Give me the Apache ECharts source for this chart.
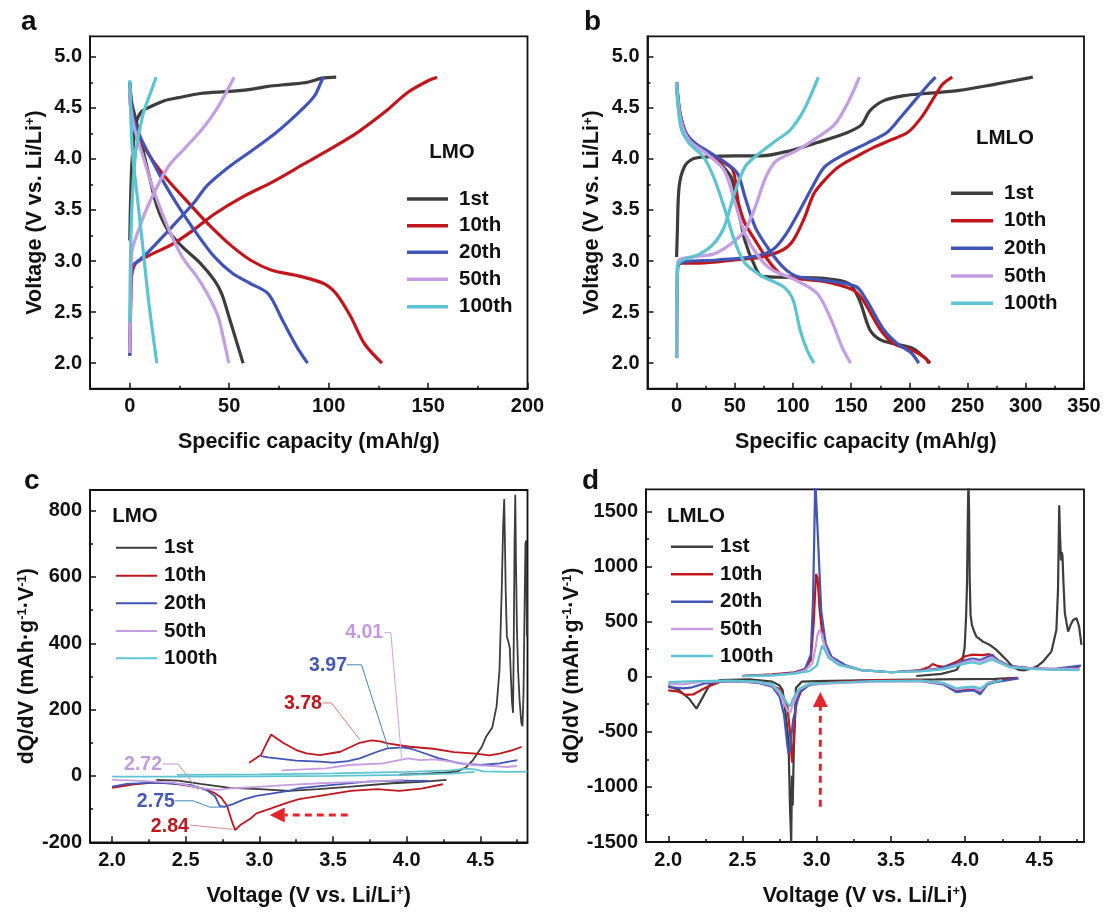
<!DOCTYPE html>
<html>
<head>
<meta charset="utf-8">
<script src="https://cdn.jsdelivr.net/npm/echarts@6/dist/echarts.min.js"></script>
<style>
  html, body { margin: 0; padding: 0; background: #fff; }
  #main { width: 1105px; height: 915px; }
</style>
</head>
<body>
<div id="main"></div>
<script>
var FONT = '"Liberation Sans", Arial, Helvetica, sans-serif';
var INK = '#111111';

var cycleNames = ['1st', '10th', '20th', '50th', '100th'];
var cycleColors = ['#3d3d3d', '#c1161c', '#4055b5', '#c59de2', '#5cc4d0'];

// ---- a: LMO charge / discharge, [capacity mAh/g, voltage V]
var lmoCharge1st = [[0,3.2],[0.4,3.6],[1.2,4.0],[3.1,4.34],[5.8,4.46],[10.3,4.51],[17.4,4.57],[24.6,4.60],[35.4,4.64],[49.8,4.66],[60.6,4.68],[69.6,4.71],[80,4.73],[89.4,4.75],[96.6,4.79],[103.8,4.80]];
var lmoDischarge1st = [[0,4.75],[1,4.55],[3.1,4.38],[6.7,4.08],[10.3,3.79],[13.8,3.53],[19.2,3.30],[26.4,3.14],[35.4,2.98],[42.6,2.81],[46.2,2.68],[49.8,2.46],[53.4,2.23],[57,2.0]];
var lmoCharge10th = [[0,2.08],[0.5,2.6],[0.9,2.85],[3.1,2.98],[10.3,3.06],[21,3.16],[31.8,3.30],[42.6,3.46],[57,3.63],[71.4,3.77],[87.6,3.95],[102,4.11],[114.6,4.26],[129,4.47],[139.7,4.65],[150.5,4.77],[154.5,4.80]];
var lmoDischarge10th = [[0,4.75],[0.5,4.5],[3.1,4.28],[10.3,4.02],[19.2,3.79],[30,3.56],[39,3.37],[49.8,3.17],[60.6,3.01],[71.4,2.91],[85.8,2.85],[97.5,2.78],[103.8,2.68],[111,2.46],[118,2.19],[126.8,2.0]];
var lmoCharge20th = [[0,2.07],[0.5,2.7],[1,2.94],[4.9,3.01],[10.3,3.11],[21,3.33],[31.8,3.56],[39,3.74],[49.8,3.92],[60.6,4.07],[73.2,4.25],[85.8,4.47],[93,4.62],[96.6,4.77],[97.5,4.80]];
var lmoDischarge20th = [[0,4.75],[1,4.5],[3.1,4.31],[10.3,4.02],[17.4,3.76],[24.6,3.53],[33.6,3.27],[42.6,3.04],[51.6,2.88],[60.6,2.78],[69.6,2.68],[76.8,2.42],[84,2.16],[89.4,2.0]];
var lmoCharge50th = [[0,2.1],[0.3,2.5],[0.9,3.07],[4.9,3.33],[10.3,3.59],[19.2,3.92],[28,4.11],[37.2,4.31],[44.4,4.51],[49.8,4.70],[52.5,4.80]];
var lmoDischarge50th = [[0,4.70],[0.5,4.5],[2.2,4.31],[6.7,4.02],[12,3.69],[19.2,3.33],[26.4,3.04],[33.6,2.85],[39,2.68],[44.4,2.46],[47,2.25],[49.8,2.0]];
var lmoCharge100th = [[0,2.4],[0.5,3.2],[1.5,3.7],[3.1,4.08],[6.7,4.44],[10.3,4.64],[13.3,4.80]];
var lmoDischarge100th = [[0,4.77],[1.3,4.08],[4,3.59],[6.7,3.11],[9.4,2.62],[12,2.23],[13.6,2.0]];

// ---- b: LMLO charge / discharge
var lmloCharge1st = [[0,3.04],[0.6,3.27],[2.1,3.72],[6.6,3.92],[14,4.0],[25.9,4.02],[49.7,4.03],[73.6,4.03],[97.4,4.08],[121,4.16],[145,4.25],[158.5,4.33],[166,4.47],[178,4.57],[196,4.62],[213.6,4.64],[243,4.67],[273,4.73],[306,4.80]];
var lmloDischarge1st = [[0,4.75],[2,4.47],[8,4.25],[20,4.11],[34.9,3.98],[46.8,3.82],[52.7,3.53],[58.7,3.20],[67.6,2.94],[73.6,2.85],[94.4,2.84],[127,2.83],[148,2.78],[157,2.62],[165.9,2.33],[174.8,2.23],[186.8,2.19],[201.7,2.15],[210.6,2.08],[218,2.0]];
var lmloCharge10th = [[0,2.05],[0.9,2.94],[3.6,2.98],[20,2.98],[49.7,3.01],[73.6,3.04],[91.5,3.11],[100,3.20],[109,3.40],[118,3.66],[127,3.79],[139,3.92],[154,4.02],[169,4.11],[183,4.18],[198.7,4.26],[210.6,4.41],[219.5,4.57],[228.5,4.73],[236.8,4.80]];
var lmloDischarge10th = [[0,4.75],[3.6,4.41],[11,4.18],[23,4.08],[37.8,3.98],[48.3,3.89],[52.7,3.59],[58.7,3.37],[67.6,3.20],[76.6,3.04],[88.5,2.88],[103,2.83],[127,2.80],[151,2.72],[160,2.62],[175,2.33],[186.8,2.19],[201.7,2.13],[213.6,2.05],[216.6,2.0]];
var lmloCharge20th = [[0,2.05],[0.9,2.94],[5,2.99],[34.9,3.01],[64.6,3.04],[82.5,3.11],[94.4,3.27],[106,3.50],[115,3.69],[127,3.92],[145,4.05],[163,4.15],[181,4.26],[192.7,4.41],[204.6,4.57],[216.6,4.73],[222.5,4.80]];
var lmloDischarge20th = [[0,4.75],[3.6,4.41],[11,4.20],[25.9,4.08],[43.8,3.95],[52.7,3.85],[58.7,3.63],[67.6,3.33],[79.5,3.11],[91.5,2.94],[103,2.85],[127,2.81],[154,2.75],[163,2.62],[177.8,2.33],[189.8,2.19],[201.7,2.10],[208,2.0]];
var lmloCharge50th = [[0,2.05],[0.8,2.95],[2,3.01],[14,3.04],[31.9,3.07],[46.8,3.17],[58.7,3.30],[67.6,3.53],[76.6,3.82],[85.5,3.98],[103,4.08],[121,4.21],[136,4.34],[148,4.57],[157,4.80]];
var lmloDischarge50th = [[0,4.75],[3.6,4.38],[11,4.18],[25.9,4.05],[40.8,3.89],[49.7,3.59],[58.7,3.27],[70.6,3.04],[82.5,2.91],[103,2.81],[121,2.68],[133,2.42],[142,2.16],[149.5,2.0]];
var lmloCharge100th = [[0,2.05],[0.6,2.94],[3.6,3.0],[20,3.07],[31.9,3.17],[40.8,3.33],[49.7,3.66],[58.7,3.92],[70.6,4.05],[85.5,4.18],[97.4,4.28],[109,4.47],[121.8,4.80]];
var lmloDischarge100th = [[0,4.75],[3.6,4.31],[11,4.15],[23,4.02],[31.9,3.82],[40.8,3.53],[49.7,3.20],[58.7,2.98],[73.6,2.85],[91.5,2.75],[100,2.62],[106,2.33],[112,2.13],[118,2.0]];

// ---- c: LMO dQ/dV, [voltage V, dQ/dV]
var lmoDqdvCharge1st = [[3.95,4],[4.1,6],[4.25,10],[4.34,13],[4.40,25],[4.45,48],[4.51,88],[4.54,119],[4.58,145],[4.61,209],[4.63,320],[4.645,560],[4.655,760],[4.662,835],[4.667,700],[4.672,560],[4.68,420],[4.69,405],[4.70,385],[4.707,300],[4.715,220],[4.722,190],[4.727,420],[4.732,700],[4.737,848],[4.742,640],[4.748,450],[4.756,320],[4.766,230],[4.778,160],[4.786,150],[4.793,250],[4.80,500],[4.806,700],[4.811,710],[4.816,420]];
var lmoDqdvDischarge1st = [[4.27,-12],[4.1,-18],[3.9,-22],[3.6,-33],[3.4,-40],[3.2,-45],[3.0,-40],[2.8,-36],[2.6,-24],[2.45,-14],[2.3,-12]];
var lmoDqdvCharge10th = [[2.93,40],[3.01,63],[3.05,100],[3.08,125],[3.12,112],[3.16,100],[3.25,78],[3.32,68],[3.41,63],[3.55,73],[3.68,100],[3.76,107],[3.82,104],[3.87,98],[4.02,88],[4.18,82],[4.32,72],[4.47,67],[4.56,62],[4.63,67],[4.72,78],[4.78,88]];
var lmoDqdvDischarge10th = [[4.245,-25],[4.1,-38],[3.95,-45],[3.8,-40],[3.62,-45],[3.41,-60],[3.27,-70],[3.18,-82],[3.08,-98],[2.98,-113],[2.935,-130],[2.87,-148],[2.835,-163],[2.81,-133],[2.78,-90],[2.74,-65],[2.69,-50],[2.62,-38],[2.5,-28],[2.4,-22],[2.28,-20],[2.15,-25],[2.0,-36]];
var lmoDqdvCharge20th = [[3.01,60],[3.06,56],[3.12,53],[3.25,46],[3.41,43],[3.5,40],[3.6,45],[3.68,53],[3.8,73],[3.87,83],[3.97,86],[4.03,82],[4.09,73],[4.22,53],[4.36,38],[4.5,33],[4.63,38],[4.75,48]];
var lmoDqdvDischarge20th = [[4.15,-15],[3.95,-14],[3.73,-17],[3.5,-27],[3.27,-37],[3.2,-45],[2.98,-60],[2.9,-70],[2.82,-85],[2.76,-93],[2.73,-90],[2.7,-62],[2.64,-42],[2.53,-27],[2.3,-20],[2.1,-24],[2.0,-32]];
var lmoDqdvCharge50th = [[3.15,17],[3.3,20],[3.45,23],[3.61,33],[3.84,38],[3.95,48],[4.01,53],[4.09,48],[4.18,50],[4.31,43],[4.45,33],[4.59,30],[4.68,27],[4.75,30]];
var lmoDqdvDischarge50th = [[3.98,-12],[3.73,-17],[3.41,-22],[3.2,-27],[3.02,-32],[2.82,-37],[2.72,-42],[2.6,-37],[2.5,-27],[2.41,-20],[2.2,-15],[2.0,-12]];
var lmoDqdvCharge100th = [[2.44,3],[3.0,5],[3.5,8],[4.0,12],[4.3,17],[4.4,22],[4.46,20],[4.52,14],[4.7,12],[4.82,13]];
var lmoDqdvDischarge100th = [[4.46,12],[4.3,7],[4.0,3],[3.5,0],[3.0,-1],[2.5,-2],[2.0,-2]];

// ---- d: LMLO dQ/dV
var lmloDqdvCharge1st = [[3.67,6],[3.84,25],[3.94,60],[3.98,140],[3.996,262],[4.006,550],[4.012,838],[4.018,1500],[4.022,1800],[4.026,1500],[4.03,900],[4.036,560],[4.045,470],[4.06,410],[4.075,364],[4.12,318],[4.17,285],[4.21,243],[4.278,152],[4.323,85],[4.36,62],[4.40,58],[4.45,75],[4.49,100],[4.524,137],[4.58,227],[4.614,424],[4.625,790],[4.633,1555],[4.638,1300],[4.645,1055],[4.65,1130],[4.655,1100],[4.662,842],[4.671,576],[4.693,409],[4.71,470],[4.727,515],[4.75,530],[4.767,455],[4.783,288]];
var lmloDqdvDischarge1st = [[4.35,-10],[4.2,-20],[4.0,-22],[3.8,-25],[3.5,-28],[3.2,-35],[3.0,-40],[2.9,-45],[2.86,-100],[2.845,-700],[2.838,-1170],[2.833,-900],[2.828,-1500],[2.82,-1200],[2.81,-600],[2.8,-450],[2.79,-330],[2.77,-121],[2.75,-80],[2.7,-45],[2.55,-25],[2.35,-30],[2.28,-70],[2.19,-290],[2.14,-200],[2.07,-120],[2.0,-85]];
var lmloDqdvCharge10th = [[2.5,8],[2.7,20],[2.85,40],[2.92,70],[2.96,150],[2.98,500],[2.995,930],[3.005,900],[3.02,600],[3.04,350],[3.08,180],[3.15,110],[3.3,60],[3.5,40],[3.7,60],[3.76,90],[3.78,115],[3.82,95],[3.86,90],[3.95,140],[4.0,185],[4.05,200],[4.12,195],[4.16,205],[4.2,160],[4.3,95],[4.45,75],[4.6,65],[4.77,85]];
var lmloDqdvDischarge10th = [[4.35,-10],[4.2,-40],[4.15,-60],[4.1,-145],[4.06,-110],[4.0,-115],[3.94,-125],[3.85,-60],[3.7,-30],[3.4,-30],[3.1,-50],[2.95,-70],[2.9,-110],[2.86,-250],[2.84,-650],[2.835,-780],[2.83,-720],[2.82,-500],[2.8,-250],[2.75,-110],[2.65,-60],[2.5,-40],[2.35,-45],[2.25,-100],[2.17,-160],[2.12,-166],[2.07,-136],[2.0,-125]];
var lmloDqdvCharge20th = [[2.5,6],[2.7,15],[2.85,35],[2.92,65],[2.96,200],[2.975,700],[2.985,1400],[2.99,1800],[3.0,1800],[3.01,1200],[3.03,600],[3.06,300],[3.1,180],[3.2,100],[3.3,60],[3.5,40],[3.7,55],[3.8,70],[3.95,120],[4.0,150],[4.05,165],[4.1,150],[4.15,180],[4.18,200],[4.22,150],[4.3,95],[4.45,75],[4.6,70],[4.78,100]];
var lmloDqdvDischarge20th = [[4.36,-15],[4.2,-50],[4.15,-70],[4.1,-160],[4.06,-125],[4.0,-130],[3.94,-140],[3.85,-70],[3.7,-40],[3.4,-40],[3.1,-55],[2.95,-75],[2.88,-150],[2.84,-400],[2.82,-650],[2.81,-700],[2.8,-600],[2.78,-350],[2.75,-180],[2.7,-90],[2.6,-55],[2.4,-40],[2.25,-60],[2.15,-100],[2.1,-106],[2.0,-95]];
var lmloDqdvCharge50th = [[2.5,5],[2.7,12],[2.85,30],[2.92,55],[2.97,120],[2.99,250],[3.005,380],[3.017,424],[3.03,400],[3.05,300],[3.08,190],[3.15,110],[3.3,60],[3.5,40],[3.7,50],[3.85,70],[3.95,110],[4.02,140],[4.05,150],[4.1,135],[4.15,160],[4.18,175],[4.22,140],[4.3,90],[4.5,70],[4.77,70]];
var lmloDqdvDischarge50th = [[4.2,-40],[4.15,-60],[4.1,-130],[4.06,-100],[4.0,-105],[3.94,-115],[3.85,-60],[3.7,-40],[3.4,-45],[3.1,-60],[2.95,-70],[2.88,-120],[2.84,-250],[2.82,-330],[2.8,-300],[2.75,-150],[2.7,-80],[2.6,-50],[2.4,-40],[2.2,-50],[2.1,-70],[2.0,-65]];
var lmloDqdvCharge100th = [[2.5,5],[2.7,12],[2.85,28],[2.95,50],[3.0,100],[3.02,200],[3.035,282],[3.05,250],[3.08,170],[3.15,105],[3.3,60],[3.5,40],[3.7,48],[3.85,65],[3.95,100],[4.02,125],[4.05,130],[4.1,115],[4.15,140],[4.18,155],[4.22,130],[4.3,85],[4.5,65],[4.77,60]];
var lmloDqdvDischarge100th = [[4.25,-30],[4.15,-60],[4.1,-110],[4.06,-90],[4.0,-95],[3.94,-105],[3.85,-55],[3.7,-35],[3.4,-40],[3.1,-55],[2.95,-65],[2.88,-110],[2.84,-200],[2.82,-270],[2.8,-240],[2.75,-130],[2.7,-70],[2.6,-45],[2.4,-35],[2.2,-40],[2.0,-50]];

// ---- tick labels
var capTicksA = [0, 50, 100, 150, 200];
var capMinorA = [25, 75, 125, 175];
var capTicksB = [0, 50, 100, 150, 200, 250, 300, 350];
var capMinorB = [25, 75, 125, 175, 225, 275, 325];
var voltTicks = [2.0, 2.5, 3.0, 3.5, 4.0, 4.5, 5.0];
var voltMinor = [2.25, 2.75, 3.25, 3.75, 4.25, 4.75];
var cvTicks = [2.0, 2.5, 3.0, 3.5, 4.0, 4.5];
var cvMinor = [2.25, 2.75, 3.25, 3.75, 4.25, 4.75];
var dqdvTicksC = [-200, 0, 200, 400, 600, 800];
var dqdvMinorC = [-100, 100, 300, 500, 700];
var dqdvTicksD = [-1500, -1000, -500, 0, 500, 1000, 1500];
var dqdvMinorD = [-1250, -750, -250, 250, 750, 1250];

// peak annotations in panel c (data coordinates)
var peakNotes = [
  { text: '4.01', color: '#c39ae0', line: '#c9a3e6', at: [3.711, 432], path: [[3.848, 432], [3.892, 432], [3.965, 53]] },
  { text: '3.97', color: '#4358b4', line: '#3f86b8', at: [3.466, 332], path: [[3.593, 335], [3.693, 335], [3.874, 84]] },
  { text: '3.78', color: '#c1161c', line: '#cf7a7a', at: [3.295, 219], path: [[3.43, 220], [3.489, 220], [3.682, 109]] },
  { text: '2.72', color: '#c39ae0', line: '#b89ad0', at: [2.21, 33], path: [[2.346, 36], [2.448, 36], [2.584, -42]] },
  { text: '2.75', color: '#4358b4', line: '#3f86b8', at: [2.297, -77], path: [[2.426, -75], [2.55, -75], [2.663, -94], [2.745, -94]] },
  { text: '2.84', color: '#c1161c', line: '#d48a8a', at: [2.392, -153], path: [[2.527, -148], [2.641, -153], [2.82, -161]] }
];
var arrowC = { from: [3.60, -118], to: [3.07, -118] };
var arrowD = { from: [3.024, -1180], to: [3.024, -140] };

var lmoCharge = [lmoCharge1st, lmoCharge10th, lmoCharge20th, lmoCharge50th, lmoCharge100th];
var lmoDischarge = [lmoDischarge1st, lmoDischarge10th, lmoDischarge20th, lmoDischarge50th, lmoDischarge100th];
var lmloCharge = [lmloCharge1st, lmloCharge10th, lmloCharge20th, lmloCharge50th, lmloCharge100th];
var lmloDischarge = [lmloDischarge1st, lmloDischarge10th, lmloDischarge20th, lmloDischarge50th, lmloDischarge100th];
var lmoDqdvCharge = [lmoDqdvCharge1st, lmoDqdvCharge10th, lmoDqdvCharge20th, lmoDqdvCharge50th, lmoDqdvCharge100th];
var lmoDqdvDischarge = [lmoDqdvDischarge1st, lmoDqdvDischarge10th, lmoDqdvDischarge20th, lmoDqdvDischarge50th, lmoDqdvDischarge100th];
var lmloDqdvCharge = [lmloDqdvCharge1st, lmloDqdvCharge10th, lmloDqdvCharge20th, lmloDqdvCharge50th, lmloDqdvCharge100th];
var lmloDqdvDischarge = [lmloDqdvDischarge1st, lmloDqdvDischarge10th, lmloDqdvDischarge20th, lmloDqdvDischarge50th, lmloDqdvDischarge100th];

var chart = echarts.init(document.getElementById('main'));

var nameStyle = {
  fontFamily: FONT, fontWeight: 'bold', fontSize: 21.5, color: INK,
  rich: { sup: { fontFamily: FONT, fontWeight: 'bold', fontSize: 13, color: INK, verticalAlign: 'top', lineHeight: 13 } }
};

function mainAxis(dim, grid, min, max, ticks, fmt, name, gap) {
  return {
    type: 'value', gridIndex: grid, min: min, max: max,
    position: dim === 'x' ? 'bottom' : 'left',
    name: name, nameLocation: 'middle', nameGap: gap, nameTextStyle: nameStyle,
    axisLine: { show: true, onZero: false, lineStyle: { color: INK, width: 1.8 } },
    axisTick: { show: true, inside: true, length: 6, customValues: ticks, lineStyle: { color: INK, width: 1.5 } },
    axisLabel: { customValues: ticks, formatter: fmt, margin: 8, color: INK, fontFamily: FONT, fontWeight: 'bold', fontSize: 20 },
    splitLine: { show: false }
  };
}
function minorAxis(dim, grid, min, max, ticks) {
  return {
    type: 'value', gridIndex: grid, min: min, max: max,
    position: dim === 'x' ? 'bottom' : 'left',
    axisLine: { show: false, onZero: false },
    axisTick: { show: true, inside: true, length: 3, customValues: ticks, lineStyle: { color: INK, width: 1.5 } },
    axisLabel: { show: false },
    splitLine: { show: false }
  };
}
var f1 = function (v) { return v.toFixed(1); };
var f0 = function (v) { return String(v); };

var xAxis = [
  mainAxis('x', 0, -20, 200, capTicksA, f0, 'Specific capacity (mAh/g)', 42),
  mainAxis('x', 1, -25, 350, capTicksB, f0, 'Specific capacity (mAh/g)', 42),
  mainAxis('x', 2, 1.85, 4.82, cvTicks, f1, 'Voltage (V vs. Li/Li{sup|+})', 43),
  mainAxis('x', 3, 1.85, 4.80, cvTicks, f1, 'Voltage (V vs. Li/Li{sup|+})', 43),
  minorAxis('x', 0, -20, 200, capMinorA),
  minorAxis('x', 1, -25, 350, capMinorB),
  minorAxis('x', 2, 1.85, 4.82, cvMinor),
  minorAxis('x', 3, 1.85, 4.80, cvMinor)
];
var yAxis = [
  mainAxis('y', 0, 1.75, 5.2, voltTicks, f1, 'Voltage (V vs. Li/Li{sup|+})', 44),
  mainAxis('y', 1, 1.75, 5.2, voltTicks, f1, 'Voltage (V vs. Li/Li{sup|+})', 44),
  mainAxis('y', 2, -200, 862, dqdvTicksC, f0, 'dQ/dV (mAh·g{sup|-1}·V{sup|-1})', 51),
  mainAxis('y', 3, -1500, 1700, dqdvTicksD, f0, 'dQ/dV (mAh·g{sup|-1}·V{sup|-1})', 62),
  minorAxis('y', 0, 1.75, 5.2, voltMinor),
  minorAxis('y', 1, 1.75, 5.2, voltMinor),
  minorAxis('y', 2, -200, 862, dqdvMinorC),
  minorAxis('y', 3, -1500, 1700, dqdvMinorD)
];

var gridBox = { show: true, borderColor: INK, borderWidth: 1.8, backgroundColor: 'transparent' };
var grid = [
  Object.assign({ left: 90, top: 36.3, width: 437.5, height: 352.4 }, gridBox),
  Object.assign({ left: 647.5, top: 36.3, width: 436.5, height: 352.4 }, gridBox),
  Object.assign({ left: 90, top: 490, width: 437.5, height: 352.3 }, gridBox),
  Object.assign({ left: 646, top: 489.3, width: 438, height: 352.7 }, gridBox)
];

var series = [];
function addCurves(g, charge, discharge, width, smooth) {
  cycleNames.forEach(function (name, i) {
    [charge[i], discharge[i]].forEach(function (d) {
      series.push({
        type: 'line', name: name, xAxisIndex: g, yAxisIndex: g, data: d,
        symbol: 'none', smooth: smooth, silent: true,
        lineStyle: { color: cycleColors[i], width: width },
        itemStyle: { color: cycleColors[i] }
      });
    });
  });
}
addCurves(0, lmoCharge, lmoDischarge, 3.2, 0.3);
addCurves(1, lmloCharge, lmloDischarge, 3.2, 0.3);
addCurves(2, lmoDqdvCharge, lmoDqdvDischarge, 1.8, false);
addCurves(3, lmloDqdvCharge, lmloDqdvDischarge, 2.2, false);

chart.setOption({
  animation: false,
  backgroundColor: '#ffffff',
  grid: grid,
  xAxis: xAxis,
  yAxis: yAxis,
  series: series
});

// ---- decorations: panel letters, legends, annotations, arrows
var graphics = [];
function txt(s, x, y, size, color, align, valign) {
  graphics.push({ type: 'text', silent: true, z: 50, style: {
    text: s, x: x, y: y, fill: color || INK, textAlign: align || 'left', textVerticalAlign: valign || 'middle',
    font: 'bold ' + size + 'px ' + FONT } });
}
function seg(pts, color, width, dash) {
  graphics.push({ type: 'polyline', silent: true, z: 50, shape: { points: pts },
    style: { stroke: color, lineWidth: width, fill: null, lineDash: dash || null } });
}

txt('a', 21, 36, 28, INK, 'left', 'bottom');
txt('b', 584, 36, 28, INK, 'left', 'bottom');
txt('c', 24, 495, 28, INK, 'left', 'bottom');
txt('d', 582, 495, 28, INK, 'left', 'bottom');

var legendSpecs = [
  { title: 'LMO', tx: 452, ty: 152, x1: 407, x2: 448, lx: 459, rows: [199, 225.7, 252.3, 279.3, 306.7], w: 3.6 },
  { title: 'LMLO', tx: 1005, ty: 138, x1: 951, x2: 993, lx: 1004, rows: [193.3, 220.7, 248.3, 276, 303.3], w: 3.6 },
  { title: 'LMO', tx: 135, ty: 516, x1: 116, x2: 157, lx: 164, rows: [547.7, 575.7, 603.3, 631, 658.3], w: 2 },
  { title: 'LMLO', tx: 696, ty: 516, x1: 671, x2: 713, lx: 720, rows: [546.7, 574.3, 601.7, 629, 656], w: 2.4 }
];
legendSpecs.forEach(function (L) {
  txt(L.title, L.tx, L.ty, 20.5, INK, 'center', 'middle');
  cycleNames.forEach(function (name, i) {
    seg([[L.x1, L.rows[i]], [L.x2, L.rows[i]]], cycleColors[i], L.w);
    txt(name, L.lx, L.rows[i], 20.5, INK, 'left', 'middle');
  });
});

function px(g, p) { return chart.convertToPixel({ gridIndex: g }, p); }

peakNotes.forEach(function (n) {
  var c = px(2, n.at);
  txt(n.text, c[0], c[1], 19.5, n.color, 'center', 'middle');
  seg(n.path.map(function (p) { return px(2, p); }), n.line, 1);
});

function arrow(g, a) {
  var p0 = px(g, a.from), p1 = px(g, a.to);
  var dx = p1[0] - p0[0], dy = p1[1] - p0[1];
  var len = Math.sqrt(dx * dx + dy * dy), ux = dx / len, uy = dy / len;
  var hl = 15, hw = 7.5;
  var bx = p1[0] - ux * hl, by = p1[1] - uy * hl;
  seg([p0, [bx, by]], '#e3262a', 3, [7, 5]);
  graphics.push({ type: 'polygon', silent: true, z: 50, shape: { points: [
    p1, [bx - uy * hw, by + ux * hw], [bx + uy * hw, by - ux * hw]] },
    style: { fill: '#e3262a', stroke: null } });
}
arrow(2, arrowC);
arrow(3, arrowD);

chart.setOption({ graphic: graphics });
</script>
</body>
</html>
